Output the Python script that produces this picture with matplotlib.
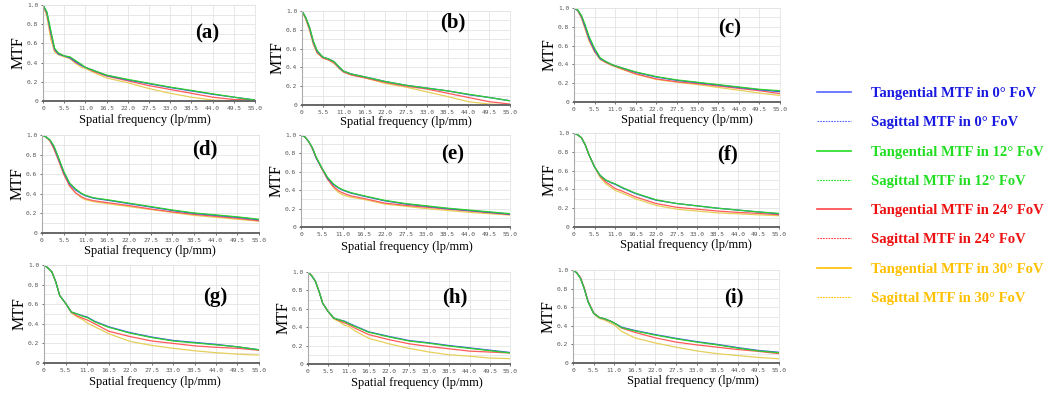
import matplotlib
matplotlib.use("Agg")
import matplotlib.pyplot as plt
from matplotlib.lines import Line2D
from matplotlib.ticker import MultipleLocator

# spatial frequency samples (lp/mm)
freq = [0, 1, 2, 3, 4, 5.5, 7, 8.5, 10, 11, 13, 16.5, 22, 27.5, 33, 38.5, 44, 49.5, 55]

# MTF curves per panel: [0 deg, 12 deg, 24 deg, 30 deg]
mtf_a = [
    [1.0, 0.92, 0.72, 0.54, 0.49, 0.47, 0.45, 0.41, 0.37, 0.35, 0.32, 0.265, 0.22, 0.18, 0.14, 0.105, 0.07, 0.04, 0.01],
    [1.0, 0.93, 0.74, 0.55, 0.50, 0.47, 0.46, 0.42, 0.38, 0.35, 0.32, 0.27, 0.225, 0.185, 0.145, 0.11, 0.075, 0.04, 0.01],
    [1.0, 0.91, 0.70, 0.53, 0.49, 0.47, 0.45, 0.40, 0.37, 0.35, 0.31, 0.26, 0.21, 0.16, 0.12, 0.08, 0.04, 0.015, 0.01],
    [1.0, 0.88, 0.65, 0.51, 0.48, 0.46, 0.44, 0.39, 0.35, 0.34, 0.30, 0.24, 0.19, 0.13, 0.08, 0.04, 0.01, 0.0, 0.0],
]
mtf_b = [
    [1.0, 0.93, 0.82, 0.67, 0.57, 0.51, 0.49, 0.46, 0.39, 0.36, 0.33, 0.30, 0.25, 0.21, 0.18, 0.15, 0.11, 0.08, 0.045],
    [1.0, 0.93, 0.83, 0.68, 0.58, 0.51, 0.49, 0.46, 0.40, 0.36, 0.33, 0.30, 0.25, 0.21, 0.18, 0.15, 0.115, 0.08, 0.045],
    [1.0, 0.92, 0.81, 0.66, 0.56, 0.50, 0.48, 0.45, 0.39, 0.35, 0.32, 0.29, 0.24, 0.20, 0.17, 0.125, 0.08, 0.035, 0.01],
    [1.0, 0.91, 0.79, 0.64, 0.55, 0.50, 0.48, 0.44, 0.38, 0.35, 0.32, 0.29, 0.23, 0.19, 0.14, 0.09, 0.035, 0.01, 0.0],
]
mtf_c = [
    [1.0, 0.975, 0.91, 0.80, 0.68, 0.55, 0.46, 0.43, 0.40, 0.385, 0.36, 0.315, 0.265, 0.23, 0.205, 0.18, 0.155, 0.13, 0.11],
    [1.0, 0.98, 0.92, 0.82, 0.70, 0.57, 0.47, 0.43, 0.40, 0.385, 0.36, 0.32, 0.27, 0.235, 0.21, 0.185, 0.16, 0.135, 0.12],
    [1.0, 0.975, 0.90, 0.79, 0.67, 0.54, 0.46, 0.42, 0.395, 0.38, 0.35, 0.30, 0.245, 0.215, 0.195, 0.17, 0.145, 0.12, 0.09],
    [1.0, 0.97, 0.89, 0.77, 0.65, 0.53, 0.45, 0.42, 0.39, 0.375, 0.345, 0.295, 0.24, 0.21, 0.185, 0.155, 0.125, 0.095, 0.07],
]
mtf_d = [
    [1.0, 0.98, 0.95, 0.88, 0.78, 0.62, 0.50, 0.44, 0.40, 0.38, 0.355, 0.335, 0.30, 0.265, 0.23, 0.20, 0.18, 0.16, 0.135],
    [1.0, 0.98, 0.95, 0.89, 0.79, 0.63, 0.51, 0.45, 0.405, 0.385, 0.36, 0.34, 0.305, 0.27, 0.235, 0.205, 0.185, 0.165, 0.14],
    [1.0, 0.98, 0.94, 0.86, 0.76, 0.60, 0.48, 0.41, 0.37, 0.35, 0.33, 0.31, 0.28, 0.245, 0.215, 0.19, 0.17, 0.15, 0.125],
    [1.0, 0.98, 0.94, 0.87, 0.77, 0.61, 0.48, 0.41, 0.36, 0.34, 0.32, 0.30, 0.27, 0.24, 0.21, 0.18, 0.16, 0.14, 0.12],
]
mtf_e = [
    [1.0, 0.98, 0.93, 0.86, 0.75, 0.64, 0.53, 0.46, 0.42, 0.40, 0.37, 0.335, 0.285, 0.25, 0.225, 0.20, 0.18, 0.16, 0.14],
    [1.0, 0.98, 0.93, 0.86, 0.76, 0.64, 0.54, 0.47, 0.425, 0.405, 0.375, 0.34, 0.29, 0.255, 0.23, 0.205, 0.185, 0.165, 0.145],
    [1.0, 0.98, 0.93, 0.85, 0.75, 0.63, 0.52, 0.44, 0.39, 0.37, 0.34, 0.31, 0.26, 0.235, 0.215, 0.195, 0.175, 0.155, 0.135],
    [1.0, 0.98, 0.93, 0.86, 0.76, 0.64, 0.52, 0.43, 0.37, 0.35, 0.325, 0.30, 0.25, 0.225, 0.20, 0.18, 0.16, 0.145, 0.13],
]
mtf_f = [
    [1.0, 0.98, 0.95, 0.875, 0.77, 0.64, 0.55, 0.50, 0.47, 0.455, 0.415, 0.355, 0.285, 0.25, 0.225, 0.20, 0.18, 0.16, 0.14],
    [1.0, 0.98, 0.95, 0.875, 0.77, 0.64, 0.55, 0.50, 0.475, 0.46, 0.42, 0.36, 0.29, 0.25, 0.225, 0.20, 0.18, 0.16, 0.145],
    [1.0, 0.98, 0.95, 0.875, 0.77, 0.64, 0.54, 0.48, 0.44, 0.41, 0.38, 0.32, 0.25, 0.21, 0.19, 0.17, 0.155, 0.145, 0.13],
    [1.0, 0.98, 0.95, 0.875, 0.77, 0.64, 0.53, 0.46, 0.42, 0.39, 0.36, 0.30, 0.23, 0.19, 0.17, 0.15, 0.14, 0.13, 0.12],
]
mtf_g = [
    [1.0, 0.97, 0.93, 0.83, 0.69, 0.61, 0.52, 0.50, 0.48, 0.47, 0.425, 0.37, 0.31, 0.265, 0.23, 0.21, 0.19, 0.165, 0.135],
    [1.0, 0.97, 0.93, 0.83, 0.69, 0.61, 0.52, 0.50, 0.475, 0.465, 0.42, 0.365, 0.305, 0.26, 0.225, 0.205, 0.185, 0.165, 0.135],
    [1.0, 0.97, 0.93, 0.83, 0.69, 0.61, 0.52, 0.48, 0.455, 0.44, 0.40, 0.325, 0.27, 0.225, 0.20, 0.175, 0.16, 0.15, 0.13],
    [1.0, 0.97, 0.93, 0.83, 0.69, 0.61, 0.51, 0.47, 0.44, 0.41, 0.37, 0.30, 0.22, 0.18, 0.15, 0.125, 0.105, 0.09, 0.08],
]
mtf_h = [
    [1.0, 0.96, 0.90, 0.79, 0.66, 0.57, 0.50, 0.48, 0.465, 0.445, 0.41, 0.35, 0.30, 0.255, 0.23, 0.20, 0.175, 0.15, 0.125],
    [1.0, 0.96, 0.90, 0.79, 0.66, 0.57, 0.50, 0.48, 0.46, 0.44, 0.405, 0.345, 0.295, 0.25, 0.225, 0.195, 0.17, 0.145, 0.12],
    [1.0, 0.96, 0.90, 0.79, 0.66, 0.57, 0.50, 0.47, 0.445, 0.43, 0.385, 0.32, 0.265, 0.22, 0.19, 0.165, 0.14, 0.13, 0.12],
    [1.0, 0.96, 0.90, 0.79, 0.66, 0.57, 0.49, 0.46, 0.42, 0.41, 0.355, 0.28, 0.22, 0.17, 0.13, 0.10, 0.085, 0.065, 0.058],
]
mtf_i = [
    [1.0, 0.97, 0.91, 0.80, 0.66, 0.535, 0.49, 0.475, 0.45, 0.43, 0.385, 0.35, 0.305, 0.265, 0.23, 0.20, 0.165, 0.135, 0.115],
    [1.0, 0.97, 0.91, 0.80, 0.66, 0.535, 0.49, 0.475, 0.45, 0.43, 0.38, 0.345, 0.30, 0.26, 0.225, 0.195, 0.16, 0.13, 0.11],
    [1.0, 0.97, 0.92, 0.81, 0.67, 0.54, 0.49, 0.47, 0.45, 0.43, 0.375, 0.33, 0.27, 0.225, 0.195, 0.17, 0.145, 0.125, 0.10],
    [1.0, 0.97, 0.91, 0.80, 0.66, 0.53, 0.48, 0.46, 0.43, 0.41, 0.34, 0.27, 0.215, 0.17, 0.13, 0.10, 0.08, 0.06, 0.045],
]

panels = ["(a)", "(b)", "(c)", "(d)", "(e)", "(f)", "(g)", "(h)", "(i)"]
panel_data = [mtf_a, mtf_b, mtf_c, mtf_d, mtf_e, mtf_f, mtf_g, mtf_h, mtf_i]

fov = ["0", "12", "24", "30"]
curve_colors = ["#3a4ee8", "#2fd02f", "#ff5a5a", "#e6cf5a"]
legend_line_colors = ["#5566ff", "#22dd22", "#ff4444", "#ffc000"]
legend_text_colors = ["#1a1ae0", "#22dd22", "#ee1111", "#ffc000"]

x_ticks = [0, 5.5, 11, 16.5, 22, 27.5, 33, 38.5, 44, 49.5, 55]
x_tick_labels = ["0"] + [f"{v:.1f}" for v in x_ticks[1:]]
y_ticks = [0, 0.2, 0.4, 0.6, 0.8, 1.0]
y_tick_labels = ["0", "0.2", "0.4", "0.6", "0.8", "1.0"]

W, H = 1051, 394
# axes boxes in pixels: left, top, right, bottom
boxes = [
    (43, 5, 255, 101), (302, 11, 510, 105), (574, 8, 780, 102),
    (42, 135, 259, 233), (301, 135, 510, 227), (574, 133, 779, 227),
    (44, 265, 259, 363), (308, 272, 510, 364), (573, 270, 779, 363),
]
# panel letter centres in pixels
letter_pos = [(207, 33), (453, 22), (730, 28), (205, 149), (453, 154),
              (728, 154), (215, 297), (455, 297), (734, 297)]
# x-label centres in pixels
xlabel_pos = [(145, 120), (406, 122), (687, 120), (150, 251), (407, 247),
              (686, 245), (155, 382), (417, 383), (693, 381)]

serif = "Liberation Serif"

fig = plt.figure(figsize=(W / 100, H / 100), dpi=100)

for k, (l, t, r, b) in enumerate(boxes):
    ax = fig.add_axes([l / W, 1 - b / H, (r - l) / W, (b - t) / H])
    curves = panel_data[k]
    for j in [3, 2, 0, 1]:
        ax.plot(freq, curves[j], color=curve_colors[j], lw=0.9)
    ax.set_xlim(0, 55)
    ax.set_ylim(0, 1.0)
    ax.set_xticks(x_ticks)
    ax.set_xticklabels(x_tick_labels)
    ax.set_yticks(y_ticks)
    ax.set_yticklabels(y_tick_labels)
    ax.yaxis.set_minor_locator(MultipleLocator(0.1))
    ax.grid(True, which="both", color="#e4e4e4", lw=0.6)
    ax.set_axisbelow(True)
    ax.tick_params(labelsize=4.5, colors="#555555", length=1.5, width=0.6, pad=2)
    ax.tick_params(which="minor", length=0)
    for lab in ax.get_xticklabels() + ax.get_yticklabels():
        lab.set_family("DejaVu Sans Mono")
    for side in ["top", "right"]:
        ax.spines[side].set_color("#e4e4e4")
        ax.spines[side].set_linewidth(0.6)
    ax.spines["left"].set_color("#aaaaaa")
    ax.spines["left"].set_linewidth(0.8)
    ax.spines["bottom"].set_color("#666666")
    ax.spines["bottom"].set_linewidth(1.4)
    ax.set_xlabel("Spatial frequency (lp/mm)", family=serif, fontsize=9, va="center")
    xl, yl = xlabel_pos[k]
    ax.xaxis.set_label_coords((xl - l) / (r - l), (b - yl) / (b - t))
    ax.set_ylabel("MTF", family=serif, fontsize=11.5, labelpad=0)
    lx, ly = letter_pos[k]
    fig.text(lx / W, 1 - ly / H, panels[k], family=serif, fontsize=15,
             fontweight="bold", ha="center", va="center")

# legend: tangential solid, sagittal dashed
handles = []
labels = []
text_colors = []
for j in range(4):
    handles.append(Line2D([], [], color=legend_line_colors[j], lw=1.2))
    labels.append(f"Tangential MTF in {fov[j]}\u00b0 FoV")
    text_colors.append(legend_text_colors[j])
    handles.append(Line2D([], [], color=legend_line_colors[j], lw=0.8, ls=(0, (1.5, 1))))
    labels.append(f"Sagittal MTF in {fov[j]}\u00b0 FoV")
    text_colors.append(legend_text_colors[j])

leg = fig.legend(handles, labels, loc="upper left",
                 bbox_to_anchor=(817 / W, 1 - 87 / H),
                 frameon=False, borderpad=0, borderaxespad=0, handlelength=2.3,
                 handletextpad=1.4, labelspacing=1.1,
                 prop={"family": serif, "weight": "bold", "size": 10.5})
for txt, c in zip(leg.get_texts(), text_colors):
    txt.set_color(c)

fig.savefig("out.png", dpi=100)
